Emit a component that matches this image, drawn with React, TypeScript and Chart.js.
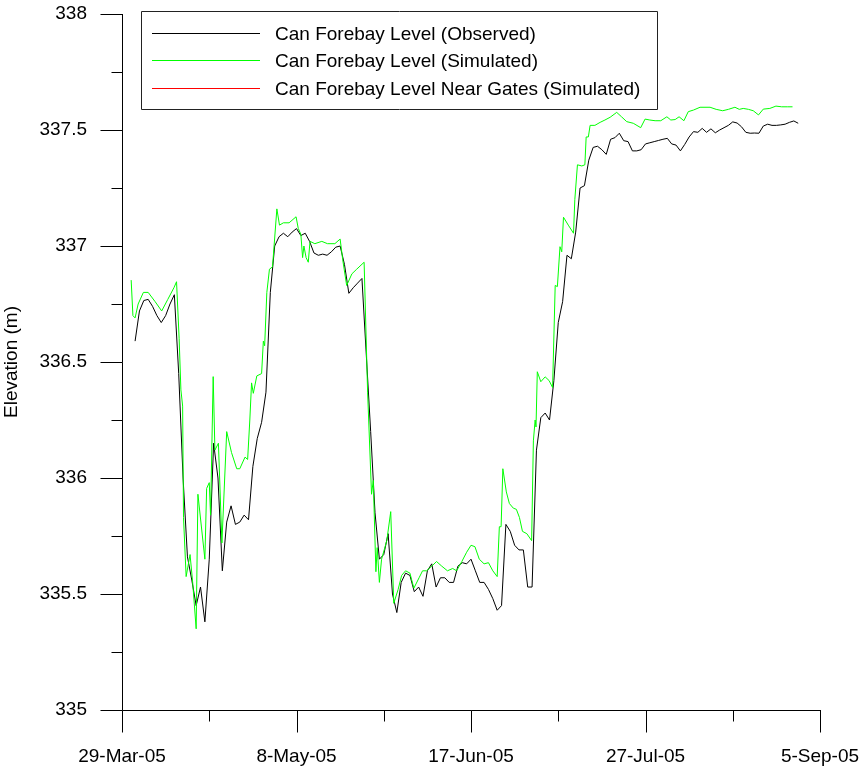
import React, { useEffect, useRef } from 'react';
import { Chart, registerables } from 'chart.js';

Chart.register(...registerables);

// ---- tick labels / categories ----
const xTickDays = [0, 40, 80, 120, 160];
const xTickLabels = ['29-Mar-05', '8-May-05', '17-Jun-05', '27-Jul-05', '5-Sep-05'];
const yMin = 335;
const yMax = 338;

const seriesNames = [
  'Can Forebay Level (Observed)',
  'Can Forebay Level (Simulated)',
  'Can Forebay Level Near Gates (Simulated)',
];
const seriesColors = ['#000000', '#00ff00', '#ff0000'];

// ---- observed: daily values, first value on day 3 (1-Apr-05) ----
const obsStartDay = 3;
const observed = [
  336.59, 336.72, 336.765, 336.77, 336.74, 336.70, 336.67, 336.70, 336.75, 336.79,
  336.45, 336.0, 335.66, 335.56, 335.45, 335.53, 335.38, 335.65, 336.15, 336.0,
  335.60, 335.81, 335.88, 335.80, 335.81, 335.84, 335.82, 336.05, 336.17, 336.24,
  336.37, 336.80, 337.0, 337.04, 337.055, 337.04, 337.06, 337.075, 337.045, 337.055,
  337.02, 336.97, 336.96, 336.965, 336.96, 336.975, 336.995, 337.0, 336.92, 336.796,
  336.82, 336.84, 336.86, 336.53, 336.2, 335.85, 335.65, 335.67, 335.76, 335.50,
  335.42, 335.55, 335.59, 335.58, 335.51, 335.53, 335.49, 335.60, 335.63, 335.53,
  335.57, 335.57, 335.55, 335.55, 335.62, 335.635, 335.63, 335.65, 335.60, 335.55,
  335.55, 335.52, 335.48, 335.43, 335.45, 335.80, 335.77, 335.71, 335.69, 335.69,
  335.53, 335.53, 336.12, 336.26, 336.28, 336.25, 336.42, 336.67, 336.76, 336.96,
  336.945, 337.06, 337.25, 337.26, 337.37, 337.425, 337.43, 337.415, 337.395, 337.46,
  337.467, 337.486, 337.454, 337.45, 337.41, 337.41, 337.415, 337.44, 337.445, 337.45,
  337.455, 337.46, 337.464, 337.44, 337.435, 337.41, 337.438, 337.47, 337.493, 337.49,
  337.507, 337.49, 337.505, 337.488, 337.50, 337.51, 337.52, 337.535, 337.53, 337.514,
  337.49, 337.486, 337.487, 337.486, 337.517, 337.525, 337.52, 337.52, 337.522, 337.525,
  337.533, 337.539, 337.529,
];

// ---- simulated: (day since 29-Mar-05, elevation) ----
const simDays = [
  2.1, 2.5, 3.0, 3.7, 4.9, 6.0, 7.6, 9.1, 10.5, 11.9, 12.5, 13.1, 13.5, 13.9, 14.1,
  14.7, 15.6, 16.2, 17.0, 17.4, 19.0, 19.4, 20.0, 20.3, 20.9, 21.3, 22.1, 22.9, 24.0,
  25.1, 26.3, 27.0, 28.2, 28.8, 29.3, 29.7, 30.1, 30.9, 32.0, 32.4, 32.7, 33.2, 33.8,
  34.5, 35.5, 36.1, 37.0, 38.3, 39.9, 40.4, 41.0, 41.4, 41.7, 42.2, 42.7, 43.1, 44.2,
  45.8, 47.1, 48.8, 50.0, 50.6, 51.5, 52.7, 53.8, 55.5, 56.3, 57.2, 57.6, 58.2, 58.5,
  59.0, 59.5, 60.7, 61.6, 62.3, 63.3, 64.1, 65.0, 66.0, 66.9, 68.1, 68.9, 69.8, 71.0,
  72.1, 73.3, 74.6, 75.8, 76.7, 77.9, 79.0, 80.0, 80.9, 81.9, 83.0, 84.0, 85.0, 86.0,
  86.5, 86.9, 87.3, 88.1, 88.8, 89.7, 90.4, 91.1, 91.8, 92.8, 93.9, 94.3, 94.7, 94.9,
  95.2, 96.0, 97.0, 97.9, 98.7, 99.3, 99.8, 100.4, 100.8, 101.2, 102.3, 103.5, 103.8,
  104.4, 105.4, 106.1, 106.4, 106.9, 107.3, 108.4, 109.6, 110.7, 111.9, 113.4, 114.5,
  115.7, 117.2, 118.9, 119.9, 121.0, 122.2, 123.5, 124.9, 125.8, 126.8, 127.7, 128.8,
  129.8, 131.0, 132.5, 134.8, 136.2, 137.7, 139.0, 140.5, 141.5, 142.4, 143.6, 144.7,
  145.9, 147.0, 148.5, 149.9, 151.2, 152.5, 153.7,
];
const simulated = [
  336.853, 336.70, 336.69, 336.75, 336.80, 336.80, 336.76, 336.72, 336.77, 336.82, 336.846, 336.6, 336.38, 336.31, 335.83,
  335.575, 335.67, 335.55, 335.35, 335.93, 335.65, 335.955, 335.98, 335.84, 336.437, 336.12, 336.15, 335.72, 336.20,
  336.11, 336.04, 336.04, 336.09, 336.08, 336.25, 336.41, 336.365, 336.44, 336.45, 336.59, 336.57, 336.80, 336.90,
  336.91, 337.16, 337.09, 337.10, 337.10, 337.126, 337.076, 337.05, 336.95, 337.0, 336.95, 336.93, 337.02, 337.01,
  337.02, 337.01, 337.01, 337.03, 336.94, 336.83, 336.88, 336.90, 336.93, 336.37, 335.93, 335.99, 335.596, 335.70,
  335.55, 335.65, 335.73, 335.855, 335.46, 335.52, 335.58, 335.60, 335.59, 335.525, 335.57, 335.60, 335.60, 335.62,
  335.64, 335.62, 335.60, 335.61, 335.60, 335.64, 335.68, 335.71, 335.704, 335.65, 335.63, 335.635, 335.60, 335.575,
  335.79, 335.79, 336.04, 335.94, 335.89, 335.87, 335.865, 335.83, 335.77, 335.76, 335.73, 336.16, 336.25, 336.22,
  336.458, 336.415, 336.436, 336.42, 336.39, 336.83, 336.825, 336.997, 336.975, 337.124, 337.09, 337.055, 337.2,
  337.35, 337.345, 337.35, 337.47, 337.47, 337.52, 337.52, 337.533, 337.543, 337.555, 337.576, 337.557,
  337.536, 337.529, 337.51, 337.547, 337.543, 337.54, 337.54, 337.557, 337.543, 337.545, 337.557, 337.54,
  337.579, 337.586, 337.598, 337.598, 337.589, 337.583, 337.589, 337.598, 337.589, 337.593, 337.589, 337.583,
  337.565, 337.59, 337.593, 337.603, 337.60, 337.60, 337.60,
];

// near-gates series: not visible in the reference plot (legend entry only)
const nearGatesDays: number[] = [];
const nearGates: number[] = [];

const FONT = '"Liberation Sans", Arial, Helvetica, sans-serif';
const FONT_SIZE = 19;

const zeroScalePadding = (s: any) => {
  s.paddingTop = 0;
  s.paddingBottom = 0;
  s.paddingLeft = 0;
  s.paddingRight = 0;
};

const axesAndLegend = {
  id: 'axesAndLegend',
  afterDraw(chart: any) {
    const { ctx, chartArea: a, scales } = chart;
    const xs = scales.x;
    const ys = scales.y;
    ctx.save();
    ctx.strokeStyle = '#000000';
    ctx.lineWidth = 1;
    ctx.beginPath();
    const L = Math.round(a.left) + 0.5;
    const B = Math.round(a.bottom) + 0.5;
    ctx.moveTo(L, Math.round(a.top));
    ctx.lineTo(L, B);
    ctx.lineTo(Math.round(a.right) + 1, B);
    for (let k = 0; k <= 12; k++) {
      const v = yMin + k * 0.25;
      const py = Math.round(ys.getPixelForValue(v)) + 0.5;
      ctx.moveTo(L - (k % 2 === 0 ? 22 : 11), py);
      ctx.lineTo(L, py);
    }
    for (let k = 0; k <= 8; k++) {
      const px = Math.round(xs.getPixelForValue(k * 20)) + 0.5;
      ctx.moveTo(px, B);
      ctx.lineTo(px, B + (k % 2 === 0 ? 22 : 11));
    }
    ctx.stroke();

    // legend box
    const bx = 141, by = 11, bw = 516, bh = 98;
    ctx.beginPath();
    ctx.strokeStyle = '#222222';
    ctx.rect(bx + 0.5, by + 0.5, bw, bh);
    ctx.stroke();
    ctx.font = `${FONT_SIZE}px ${FONT}`;
    ctx.textBaseline = 'middle';
    ctx.textAlign = 'left';
    for (let i = 0; i < seriesNames.length; i++) {
      const ry = Math.floor(by + 22 + i * 27.5);
      ctx.fillStyle = seriesColors[i];
      ctx.fillRect(bx + 11, ry, 108, 1);
      ctx.fillStyle = '#000000';
      ctx.fillText(seriesNames[i], bx + 134, ry + 1.5);
    }
    ctx.restore();
  },
};

export default function App() {
  const ref = useRef<HTMLCanvasElement | null>(null);
  useEffect(() => {
    document.body.style.margin = '0';
    if (!ref.current) return;
    const obsData = observed.map((v, i) => ({ x: obsStartDay + i, y: v }));
    const simData = simDays.map((d, i) => ({ x: d, y: simulated[i] }));
    const gateData = nearGatesDays.map((d, i) => ({ x: d, y: nearGates[i] }));
    const chart = new Chart(ref.current, {
      type: 'line',
      data: {
        datasets: [
          { label: seriesNames[0], data: obsData, borderColor: seriesColors[0], borderWidth: 1, pointRadius: 0, order: 2 },
          { label: seriesNames[2], data: gateData, borderColor: seriesColors[2], borderWidth: 1, pointRadius: 0, order: 1 },
          { label: seriesNames[1], data: simData, borderColor: seriesColors[1], borderWidth: 1, pointRadius: 0, order: 0 },
        ],
      },
      options: {
        animation: false,
        responsive: false,
        maintainAspectRatio: false,
        layout: { autoPadding: false, padding: { left: 0, right: 42, top: 14, bottom: 0 } },
        plugins: { legend: { display: false }, tooltip: { enabled: false } },
        elements: { line: { tension: 0 } },
        scales: {
          x: {
            type: 'linear',
            min: 0,
            max: 160,
            grid: { display: false, drawTicks: false },
            border: { display: false },
            afterBuildTicks: (s: any) => {
              s.ticks = xTickDays.map((d) => ({ value: d }));
            },
            afterFit: (s: any) => {
              s.height = 61;
              zeroScalePadding(s);
            },
            ticks: {
              autoSkip: false,
              maxRotation: 0,
              padding: 35,
              color: '#000',
              font: { family: FONT, size: FONT_SIZE },
              callback: (v: any) => {
                const idx = xTickDays.indexOf(Number(v));
                return idx >= 0 ? xTickLabels[idx] : '';
              },
            },
          },
          y: {
            type: 'linear',
            min: yMin,
            max: yMax,
            grid: { display: false, drawTicks: false },
            border: { display: false },
            afterFit: (s: any) => {
              s.width = 122;
              zeroScalePadding(s);
            },
            ticks: {
              stepSize: 0.5,
              padding: 35,
              color: '#000',
              font: { family: FONT, size: FONT_SIZE },
              callback: (v: any) => String(Number(v)),
            },
            title: {
              display: true,
              text: 'Elevation (m)',
              color: '#000',
              font: { family: FONT, size: FONT_SIZE },
              padding: { top: 0, bottom: 0 },
            },
          },
        },
      },
      plugins: [axesAndLegend],
    });
    return () => chart.destroy();
  }, []);
  return (
    <div style={{ width: 862, height: 771 }}>
      <canvas ref={ref} width={862} height={771} style={{ display: 'block' }} />
    </div>
  );
}
